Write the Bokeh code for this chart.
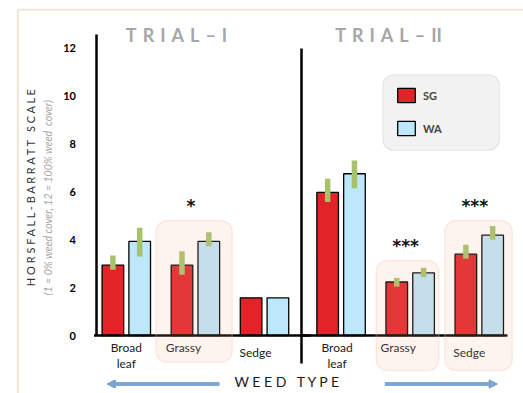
import math
from bokeh.plotting import figure
from bokeh.models import (ColumnDataSource, Range1d, LinearAxis, FixedTicker, BoxAnnotation,
                          Legend, LegendItem, Arrow, NormalHead)
from bokeh.core.properties import value
from bokeh.embed import file_html
from bokeh.resources import INLINE

# ---------------- data ----------------
trials = ["T\u2004R\u2004I\u2004A\u2004L\u2004–\u2004I", "T\u2004R\u2004I\u2004A\u2004L\u2004–\u2004II"]
weed_types = ["Broad leaf", "Grassy", "Sedge", "Broad leaf", "Grassy", "Sedge"]
series = ["SG", "WA"]
sg_values = [2.93, 2.93, 1.57, 5.96, 2.23, 3.39]
wa_values = [3.92, 3.92, 1.57, 6.74, 2.61, 4.18]
nan = float("nan")
sg_err_low = [2.74, 2.53, nan, 5.56, 2.04, 3.20]
sg_err_high = [3.33, 3.51, nan, 6.53, 2.40, 3.78]
wa_err_low = [3.29, 3.72, nan, 6.14, 2.43, 3.99]
wa_err_high = [4.49, 4.30, nan, 7.29, 2.82, 4.56]
significance = ["", "*", "", "", "***", "***"]
y_ticks = [0, 2, 4, 6, 8, 10, 12]
y_tick_labels = ["0", "2", "4", "6", "8", "10", "12"]

# ---------------- layout helpers (page pixels -> data units) ----------------
W, H = 523, 393
X0, SX = 125.8, 69.1     # page x of first group, px per group
Y0, SY = 335.0, 24.0     # page y of zero, px per unit
def ux(px): return (px - X0) / SX
def vy(py): return (Y0 - py) / SY
def dx(px): return px / SX

GAP = 0.108
gpos = [i + (GAP if i >= 3 else 0.0) for i in range(len(weed_types))]
OFF, BW = 0.194, 0.313

src = ColumnDataSource(dict(
    x_sg=[g - OFF for g in gpos], x_wa=[g + OFF for g in gpos],
    sg=sg_values, wa=wa_values,
    sg_lo=sg_err_low, sg_hi=sg_err_high, wa_lo=wa_err_low, wa_hi=wa_err_high,
))

p = figure(width=W, height=H, output_backend="svg", toolbar_location=None, title=None,
           x_axis_type=None, y_axis_type=None,
           x_range=Range1d(ux(0), ux(W)), y_range=Range1d(vy(H), vy(0)),
           min_border=0)
p.outline_line_color = None
p.background_fill_color = "white"
p.border_fill_color = "white"

FONT = "Lato"
NB = "\u00a0"

# outer beige panel border
p.segment(x0=[ux(17.3), ux(17.3)], y0=[vy(9.3), vy(9.3)], x1=[ux(530), ux(17.3)], y1=[vy(9.3), vy(400)],
          line_color="#ebe7d7", line_width=2)

# legend background
p.add_layout(BoxAnnotation(left=ux(382.3), right=ux(499), top=vy(74.3), bottom=vy(150),
                           fill_color="#f2f2f2", fill_alpha=1, line_color="#c4c4c4", line_width=1.2,
                           border_radius=11, level="underlay"))

# bars
r_sg = p.vbar(x="x_sg", top="sg", bottom=0, width=BW, source=src,
              fill_color="#e02428", line_color="black", line_width=1.3)
r_wa = p.vbar(x="x_wa", top="wa", bottom=0, width=BW, source=src,
              fill_color="#bde8fb", line_color="black", line_width=1.3)
# error bars
p.vbar(x="x_sg", top="sg_hi", bottom="sg_lo", width=dx(5.5), source=src,
       fill_color="#a6c26a", line_color=None)
p.vbar(x="x_wa", top="wa_hi", bottom="wa_lo", width=dx(5.5), source=src,
       fill_color="#a6c26a", line_color=None)

# baselines and divider
p.segment(x0=[ux(93.5), ux(301)], y0=[0, 0], x1=[ux(310), ux(507)], y1=[0, 0],
          line_color="black", line_width=2.5)
p.segment(x0=[ux(301)], y0=[vy(48)], x1=[ux(301)], y1=[vy(363)], line_color="black", line_width=2.5)

# y axis (fixed at the left black line)
yaxis = LinearAxis(fixed_location=ux(95.5), bounds=(0, vy(34)),
                   ticker=FixedTicker(ticks=y_ticks),
                   major_label_overrides={t: l for t, l in zip(y_ticks, y_tick_labels)})
yaxis.axis_line_color = "black"
yaxis.axis_line_width = 2.5
yaxis.major_tick_line_color = None
yaxis.minor_tick_line_color = None
yaxis.major_label_standoff = 14
yaxis.major_label_text_font = FONT
yaxis.major_label_text_font_style = "bold"
yaxis.major_label_text_font_size = "11px"
yaxis.major_label_text_color = "black"
yaxis.axis_label = "H O R S F A L L - B A R R A T T" + NB * 3 + "S C A L E"
yaxis.axis_label_text_font = FONT
yaxis.axis_label_text_font_style = "normal"
yaxis.axis_label_text_font_size = "11px"
yaxis.axis_label_text_color = "#333333"
yaxis.axis_label_standoff = 24
p.add_layout(yaxis, "left")

# subtitle of y axis
p.text(x=[ux(47)], y=[vy(197)], text=["(1 = 0% weed cover, 12 = 100% weed" + NB + " cover)"],
       angle=math.pi / 2,
       text_font=value(FONT), text_font_style="italic", text_font_size="10.5px",
       text_color="#a6a6a6", text_align="center", text_baseline="middle")

# trial headings
p.text(x=[ux(176), ux(388)], y=[vy(34), vy(34)], text=trials,
       text_font=value(FONT), text_font_style="bold", text_font_size="18px",
       text_color="#a6a6a6", text_align="center", text_baseline="middle")

# weed-type labels under each group
label_dx = [0, -12, -9, -4, -12, -10]
label_top = [339.5, 339.5, 344.5, 339.5, 339.5, 344.5]
p.text(x=[g + dx(d) for g, d in zip(gpos, label_dx)], y=[vy(t) for t in label_top],
       text=[w.replace(" ", "\n") for w in weed_types],
       text_font=value(FONT), text_font_size="12px", text_color="#1a1a1a",
       text_align="center", text_baseline="top", text_line_height=1.05)

# x axis title
p.text(x=[ux(287.3)], y=[vy(381)], text=["W E E D" + NB * 3 + "T Y P E"],
       text_font=value(FONT), text_font_size="14px", text_color="#1a1a1a",
       text_align="center", text_baseline="middle")

# arrows
for xs, xe in [(ux(219), ux(106.7)), (ux(384.3), ux(496.7))]:
    p.add_layout(Arrow(x_start=xs, y_start=vy(383.5), x_end=xe, y_end=vy(383.5),
                       line_color="#7ea6d6", line_width=4,
                       end=NormalHead(size=8, fill_color="#7ea6d6", line_color="#6b93c6", line_width=1)))

# highlight boxes around significant groups (page extents)
box_px = {1: (155.7, 231.7, 220, 361.7), 4: (375.7, 438.3, 260, 370), 5: (444.3, 511.7, 220, 370)}
for i, (l, r, t, b) in box_px.items():
    p.add_layout(BoxAnnotation(left=ux(l), right=ux(r), top=vy(t), bottom=vy(b),
                               fill_color="#f2af94", fill_alpha=0.15,
                               line_color="#f7c4ae", line_width=1.5, border_radius=11))

# significance stars
star_x = [g + dx(-4.5) for g in gpos]
star_base = [205, 205, 205, 205, 245, 205.5]
sx_, sy_, st_ = [], [], []
for i, s in enumerate(significance):
    if s:
        sx_.append(star_x[i]); sy_.append(vy(star_base[i])); st_.append(s)
p.text(x=sx_, y=sy_, text=st_, text_font=value("DejaVu Sans"), text_font_style="bold",
       text_font_size="17px", text_color="#111111", text_align="center", text_baseline="alphabetic")

# legend
legend = Legend(items=[LegendItem(label=series[0], renderers=[r_sg]),
                       LegendItem(label=series[1], renderers=[r_wa])],
                location=(382, 243), orientation="vertical",
                glyph_width=22, glyph_height=18, label_height=18, label_width=65,
                label_standoff=6, spacing=15, padding=13, margin=0,
                label_text_font=FONT, label_text_font_style="bold", label_text_font_size="11px",
                label_text_baseline="bottom",
                background_fill_alpha=0, border_line_alpha=0)
p.add_layout(legend)

open("out.html", "w").write(file_html(p, INLINE))
